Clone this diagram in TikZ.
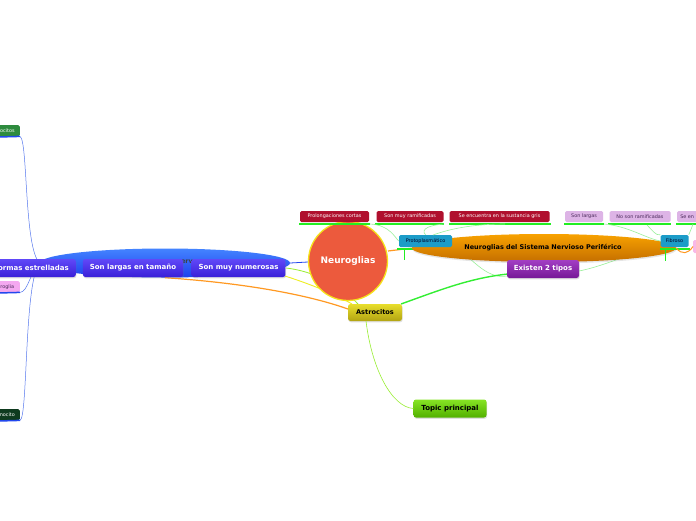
\documentclass[tikz,border=0pt]{standalone}
\usepackage{fontspec}
\setmainfont{DejaVu Sans}
\usetikzlibrary{shapes.geometric,shadows}
\definecolor{bluebA}{HTML}{6048F8}
\definecolor{bluebB}{HTML}{3A20D8}
\definecolor{ovalbA}{HTML}{4484FF}
\definecolor{ovalbB}{HTML}{1E40EE}
\definecolor{ovaloA}{HTML}{F8A200}
\definecolor{ovaloB}{HTML}{C46E00}
\definecolor{neuro}{HTML}{EC5A3D}
\definecolor{neuroedge}{HTML}{F5E21A}
\definecolor{astroA}{HTML}{E8DE2C}
\definecolor{astroB}{HTML}{B2A412}
\definecolor{purA}{HTML}{A23EC4}
\definecolor{purB}{HTML}{761896}
\definecolor{topA}{HTML}{86E424}
\definecolor{topB}{HTML}{52B000}
\definecolor{teal}{HTML}{1C9CC8}
\definecolor{redn}{HTML}{B0102E}
\definecolor{lav}{HTML}{DDB4E6}
\definecolor{lavtext}{HTML}{4A2A5A}
\definecolor{uline}{HTML}{22EE22}
\definecolor{thin}{HTML}{99F099}
\definecolor{blueline}{HTML}{5577EE}
\definecolor{blueul}{HTML}{2248EE}
\definecolor{orangeline}{HTML}{FF9922}
\definecolor{yelline}{HTML}{EEEE22}
\definecolor{lgline}{HTML}{99EE33}
\definecolor{strong}{HTML}{33EE33}
\definecolor{darkgreen}{HTML}{2E8B3E}
\definecolor{vdarkgreen}{HTML}{0E3A1E}
\definecolor{pinkn}{HTML}{F4A8F0}
\definecolor{pinkr}{HTML}{F8B8E8}
\begin{document}
\begin{tikzpicture}[x=1pt,y=-1pt,
  shad/.style={drop shadow={shadow xshift=0.6pt,shadow yshift=-1.3pt,opacity=0.25}},
  bluebox/.style={rectangle,rounded corners=2.5pt,top color=bluebA,bottom color=bluebB,
    text=white,font=\bfseries\fontsize{7}{8}\selectfont,minimum height=18pt,inner xsep=7pt,inner ysep=0pt,shad},
  mainbox/.style={rectangle,rounded corners=2.5pt,font=\bfseries\fontsize{6.6}{8}\selectfont,
    inner sep=0pt,shad},
  small/.style={rectangle,rounded corners=1.5pt,font=\fontsize{4.9}{6}\selectfont,inner sep=0pt,
    minimum height=11pt},
  thinc/.style={draw=thin,line width=0.6pt},
  ul/.style={draw=uline,line width=2pt},
  bul/.style={draw=blueul,line width=1.5pt}
]
\useasboundingbox (0,0) rectangle (696,520);
\fill[white] (0,0) rectangle (696,520);

% --- left oval (central nervous system map) ---
\node[ellipse,top color=ovalbA,bottom color=ovalbB,minimum width=250pt,minimum height=29pt,inner sep=0pt] (ovalL) at (165,263) {};
\node[font=\bfseries\fontsize{6.5}{8}\selectfont,text=black!75,inner sep=0pt] (ovalLtext) at (187,261.5) {erv};

% --- left small nodes ---
\node[rectangle,rounded corners=1.5pt,fill=darkgreen,text=white,font=\fontsize{4.9}{6}\selectfont,
  inner sep=0pt,minimum height=11pt,minimum width=30pt,anchor=north east] (ocitos) at (20,125) {\hspace*{8pt}ocitos\hspace*{3pt}};
\node[rectangle,rounded corners=1.5pt,fill=pinkn,text=lavtext,font=\fontsize{4.9}{6}\selectfont,
  inner sep=0pt,minimum height=11pt,minimum width=30pt,anchor=north east] (roglia) at (20,281) {\hspace*{8pt}roglia\hspace*{3pt}};
\node[rectangle,rounded corners=1.5pt,fill=vdarkgreen,text=white,font=\fontsize{4.9}{6}\selectfont,
  inner sep=0pt,minimum height=11pt,minimum width=30pt,anchor=north east] (nocito) at (20,409) {\hspace*{8pt}nocito\hspace*{3pt}};
\draw[bul] (-2,137) -- (ocitos.south east);
\draw[bul] (-2,293) -- (roglia.south east);
\draw[bul] (-2,421) -- (nocito.south east);
\draw[blueline,line width=0.5pt] (ocitos.south east) .. controls (28,140) and (24,250) .. (ovalL.west);
\draw[blueline,line width=0.5pt] (roglia.south east) .. controls (28,292) and (30,272) .. (ovalL.west);
\draw[blueline,line width=0.5pt] (nocito.south east) .. controls (28,418) and (24,280) .. (ovalL.west);

% --- connectors from left area to centre ---
\draw[orangeline,line width=1.2pt] (ovalL.south) .. controls (230,282) and (300,292) .. (348,309);
\draw[blueul,line width=0.8pt] (ovalL.east) -- (308,262);
\draw[lgline,line width=0.8pt] (286,268) .. controls (320,272) and (345,290) .. (358,304);
\draw[yelline,line width=0.9pt] (285,276) .. controls (310,284) and (335,294) .. (352,304);

% --- left blue nodes ---
\node[bluebox,anchor=east] (formas) at (76,268) {formas estrelladas};
\node[bluebox] (largas) at (133,268) {Son largas en tamaño};
\node[bluebox] (numerosas) at (238.5,268) {Son muy numerosas};

% --- right side connectors behind oval ---
\draw[orangeline,line width=1.2pt] (388,251) -- (413,248);
\draw[thinc] (507,276) .. controls (485,280) and (470,255) .. (450,243);
\draw[thinc] (579,271) .. controls (605,266) and (640,250) .. (661,243);
\draw[strong,line width=1.4pt] (401,304) .. controls (440,290) and (470,278) .. (508,274);

% Protoplasmatico underline (behind oval)
\draw[ul] (397,248.5) -- (452,248.5);

% --- right oval ---
\node[ellipse,top color=ovaloA,bottom color=ovaloB,minimum width=264pt,minimum height=28pt,inner sep=0pt,
  drop shadow={shadow xshift=0.5pt,shadow yshift=-1.5pt,opacity=0.2}] (ovalR) at (544,248) {};
\node[font=\bfseries\fontsize{6.5}{8}\selectfont,text=black] (ovalRtext) at (543,248) {Neuroglias del Sistema Nervioso Periférico};

% --- circle ---
\node[circle,fill=neuro,draw=neuroedge,line width=1.3pt,minimum size=79pt,inner sep=0pt,
  text=white,font=\bfseries\fontsize{9}{10}\selectfont] (neuro) at (348,261) {Neuroglias};

% --- Astrocitos, Existen, Topic ---
\node[mainbox,top color=astroA,bottom color=astroB,minimum width=54pt,minimum height=17pt,text=black] (astro) at (375,312.5) {Astrocitos};
\node[mainbox,top color=purA,bottom color=purB,minimum width=72pt,minimum height=18pt,text=white,
  font=\bfseries\fontsize{7}{8}\selectfont] (existen) at (543,269) {Existen 2 tipos};
\node[mainbox,top color=topA,bottom color=topB,minimum width=73pt,minimum height=18pt,text=black,
  font=\bfseries\fontsize{7}{8}\selectfont] (topic) at (450,408.5) {Topic principal};
\draw[lgline,line width=0.6pt] (366,321) .. controls (372,370) and (392,407) .. (topic.west);

% --- Protoplasmatico and Fibroso ---
\node[small,fill=teal,text=black!85!blue,minimum width=53pt,minimum height=12pt] (proto) at (425.5,241) {Protoplasmático};
\node[small,fill=teal,text=black!85!blue,minimum width=28pt,minimum height=12pt] (fibroso) at (674.5,241) {Fibroso};
\draw[ul] (660,248.5) -- (690,248.5);
\draw[uline,line width=0.8pt] (404,249) -- (404,260);
\draw[uline,line width=0.8pt] (665,249) -- (665,261);

% --- top small nodes ---
\node[small,fill=redn,text=white,minimum width=69pt] (prol) at (334.5,216.5) {Prolongaciones cortas};
\node[small,fill=redn,text=white,minimum width=67pt] (ramif) at (410,216.5) {Son muy ramificadas};
\node[small,fill=redn,text=white,minimum width=100pt] (gris) at (499.5,216.5) {Se encuentra en la sustancia gris};
\node[small,fill=lav,text=lavtext,minimum width=38pt] (slargas) at (584,216.5) {Son largas};
\node[small,fill=lav,text=lavtext,minimum width=61pt] (noram) at (640,216.5) {No son ramificadas};
\node[small,fill=lav,text=lavtext,minimum width=30pt,anchor=west,align=left] (seen) at (677,216.5) {\hspace*{-10pt}Se en};
\draw[ul] (299,224) -- (370,224);
\draw[ul] (375,224) -- (444,224);
\draw[ul] (449,224) -- (551,224);
\draw[ul] (564,224) -- (604,224);
\draw[ul] (608,224) -- (671,224);
\draw[ul] (676,224) -- (700,224);

\draw[thinc] (370,224) .. controls (390,225) and (395,238) .. (proto.west);
\draw[thinc] (proto.north) .. controls (420,229) and (430,225) .. (444,224);
\draw[thinc] (433,235) .. controls (455,227) and (480,224) .. (505,224);
\draw[thinc] (604,224) .. controls (628,226) and (645,238) .. (fibroso.west);
\draw[thinc] (647,225) .. controls (652,230) and (656,236) .. (fibroso.north west);
\draw[thinc] (fibroso.north east) .. controls (690,232) and (692,227) .. (693,224);

% --- far right ---
\node[rectangle,rounded corners=1.5pt,fill=pinkr,minimum width=10pt,minimum height=13pt,inner sep=0pt,anchor=west] (pinkR) at (693,246.5) {};
\draw[orangeline,line width=1pt] (ovalR.east) .. controls (682,255) and (688,254) .. (pinkR.west);
\end{tikzpicture}
\end{document}
